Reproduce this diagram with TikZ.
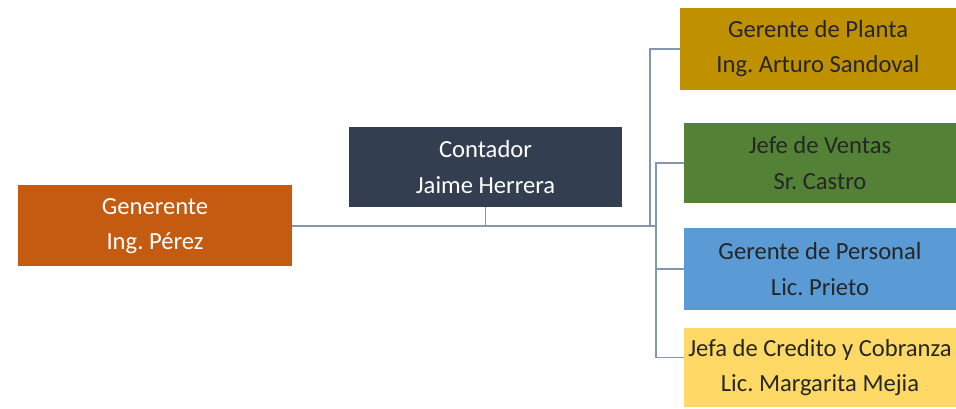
\documentclass[tikz,border=0pt]{standalone}
\usepackage{fontspec}
\setmainfont{Carlito}
\usepackage{tikz}
\usetikzlibrary{positioning, calc}
\frenchspacing

\definecolor{cOrange}{HTML}{C55A11}
\definecolor{cNavy}{HTML}{333F50}
\definecolor{cGold}{HTML}{BF9000}
\definecolor{cGreen}{HTML}{538135}
\definecolor{cBlue}{HTML}{5B9BD5}
\definecolor{cYellow}{HTML}{FFD966}
\definecolor{cLine}{HTML}{8497B0}
\definecolor{cText}{HTML}{262626}

\begin{document}
\begin{tikzpicture}[
        post/.style={rectangle, draw=none, minimum width=5.48cm, minimum height=1.62cm, align=center, inner sep=0pt, font=\fontsize{14}{20}\selectfont, text=cText},
        boss/.style={post, text=white},
        link/.style={draw=cLine, line width=0.8pt},
    ]
    \useasboundingbox (0,0) rectangle (19.12,8.18);

    % Left side
    \node[boss, fill=cOrange] (gen) at (3.1,3.66) {Generente\\Ing. Pérez};
    \node[boss, fill=cNavy, minimum width=5.46cm, minimum height=1.6cm] (cont) at (9.71,4.84) {Contador\\Jaime Herrera};

    % Right column
    \node[post, fill=cGold, minimum width=5.52cm, minimum height=1.64cm] (plan) at (16.36,7.2) {Gerente de Planta\\Ing. Arturo Sandoval};
    \node[post, fill=cGreen, minimum width=5.44cm, minimum height=1.6cm] (vent) at (16.4,4.92) {Jefe de Ventas\\Sr. Castro};
    \node[post, fill=cBlue, minimum width=5.44cm, minimum height=1.64cm] (pers) at (16.4,2.8) {Gerente de Personal\\Lic. Prieto};
    \node[post, fill=cYellow, minimum width=5.44cm, minimum height=1.58cm] (cred) at (16.4,0.83) {Jefa de Credito y Cobranza\\Lic. Margarita Mejia};

    % Lines
    \coordinate (j) at (13.12,3.66);
    \coordinate (j1) at (13.0,3.66);
    \draw[link] (gen.east) -- (j);
    \draw[link] (cont.south) -- (cont.south |- j);
    \draw[link] (plan.west) -| (j1);
    \draw[link] (vent.west) -| (j) |- ($(cred.west)+(0,0.2)$);
    \draw[link] (pers.west) -- (pers.west -| j);
\end{tikzpicture}
\end{document}
